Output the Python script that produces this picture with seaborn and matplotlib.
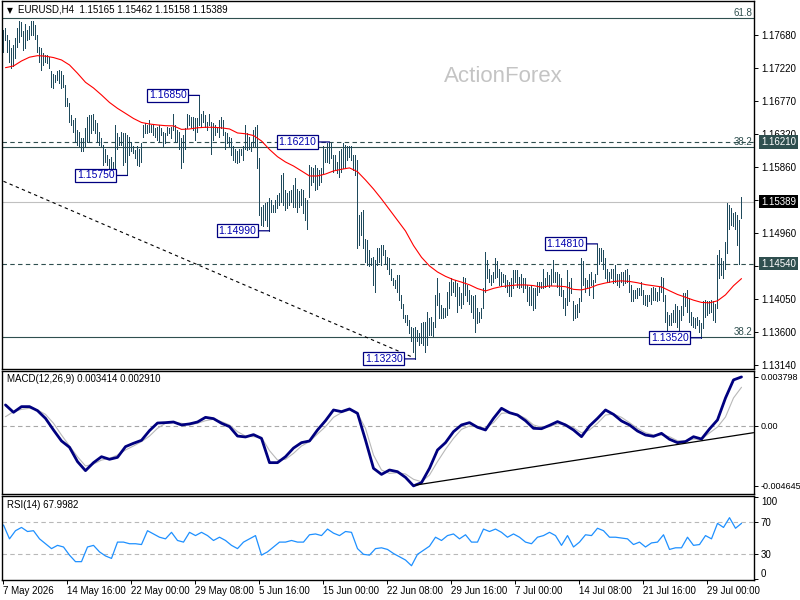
import numpy as np
import pandas as pd
import matplotlib
matplotlib.use("Agg")
import matplotlib.pyplot as plt
import matplotlib.transforms as mtransforms
import seaborn as sns

# ---------------- data ----------------
highs_a = [1.1775,1.1777,1.1768,1.1761,1.1750,1.1754,1.1764,1.1777,1.1787,1.1786,
           1.1773,1.1783,1.1775,1.1780,1.1787,1.1787,1.1782,1.1768,1.1752,1.1750,
           1.1743,1.1741,1.1741,1.1738,1.1718,1.1715,1.1713,1.1718,1.1720,1.1718,
           1.1713,1.1699,1.1681,1.1674,1.1658,1.1651,1.1654,1.1638,1.1635,1.1626,
           1.1626,1.1640,1.1656,1.1658,1.1658,1.1660,1.1651,1.1647,1.1635,1.1626,
           1.1617,1.1612,1.1603,1.1598,1.1601,1.1594,1.1644,1.1633,1.1628,1.1635,
           1.1633,1.1633,1.1631,1.1628,1.1621,1.1615,1.1610,1.1615,1.1612,1.1619,
           1.1644,1.1647,1.1644,1.1651,1.1644,1.1644,1.1640,1.1642,1.1644,1.1640,
           1.1635,1.1633,1.1642,1.1640,1.1642,1.1660,1.1644,1.1638,1.1635,1.1626,
           1.1631,1.1640,1.1660,1.1658,1.1656]
lows_a = [1.1745,1.1761,1.1745,1.1731,1.1722,1.1725,1.1736,1.1752,1.1759,1.1766,
          1.1747,1.1750,1.1761,1.1763,1.1768,1.1768,1.1763,1.1745,1.1731,1.1720,
          1.1727,1.1731,1.1729,1.1722,1.1697,1.1695,1.1704,1.1706,1.1702,1.1695,
          1.1697,1.1670,1.1670,1.1649,1.1644,1.1635,1.1621,1.1617,1.1615,1.1608,
          1.1608,1.1615,1.1621,1.1621,1.1633,1.1638,1.1633,1.1621,1.1617,1.1615,
          1.1590,1.1594,1.1590,1.1585,1.1580,1.1577,1.1585,1.1612,1.1617,1.1617,
          1.1590,1.1594,1.1575,1.1603,1.1608,1.1606,1.1599,1.1590,1.1588,1.1594,
          1.1628,1.1633,1.1633,1.1635,1.1635,1.1631,1.1628,1.1624,1.1621,1.1631,
          1.1615,1.1619,1.1631,1.1633,1.1626,1.1638,1.1621,1.1621,1.1612,1.1585,
          1.1594,1.1612,1.1640,1.1644,1.1642]
highs_b = [1.1656,1.1654,1.1654,1.1685,1.1660,1.1663,1.1658,1.1649,1.1660,1.1649,
           1.1647,1.1644,1.1642,1.1651,1.1656,1.1651,1.1635,1.1633,1.1628,1.1626,
           1.1615,1.1612,1.1608,1.1612,1.1612,1.1615,1.1644,1.1633,1.1628,1.1621,
           1.1638,1.1642,1.1644,1.1599,1.1532,1.1534,1.1537,1.1539,1.1544,1.1541,
           1.1534,1.1541,1.1548,1.1551,1.1576,1.1578,1.1555,1.1551,1.1553,1.1555,
           1.1562,1.1571,1.1557,1.1553,1.1557,1.1555,1.1544,1.1541,1.1589,1.1587,
           1.1585,1.1589,1.1585,1.1582,1.1585,1.1615,1.1612,1.1619,1.1621,1.1619,
           1.1603,1.1603,1.1594,1.1608,1.1612,1.1619,1.1617,1.1615,1.1615,1.1615,
           1.1603,1.1603,1.1596,1.1521,1.1525,1.1528,1.1488,1.1486,1.1473,1.1461,
           1.1463,1.1459,1.1475,1.1475]
lows_b = [1.1638,1.1624,1.1635,1.1644,1.1642,1.1649,1.1642,1.1638,1.1644,1.1605,
          1.1624,1.1631,1.1635,1.1628,1.1640,1.1631,1.1612,1.1619,1.1615,1.1603,
          1.1596,1.1594,1.1592,1.1594,1.1603,1.1596,1.1612,1.1610,1.1612,1.1608,
          1.1615,1.1615,1.1585,1.1521,1.1507,1.1505,1.1514,1.1505,1.1499,1.1525,
          1.1525,1.1525,1.1530,1.1534,1.1539,1.1534,1.1528,1.1530,1.1534,1.1539,
          1.1532,1.1532,1.1525,1.1532,1.1534,1.1523,1.1514,1.1502,1.1546,1.1562,
          1.1566,1.1555,1.1557,1.1562,1.1566,1.1578,1.1594,1.1594,1.1592,1.1599,
          1.1580,1.1583,1.1578,1.1573,1.1580,1.1585,1.1587,1.1596,1.1601,1.1596,
          1.1583,1.1576,1.1475,1.1479,1.1493,1.1475,1.1456,1.1452,1.1450,1.1452,
          1.1424,1.1415,1.1452,1.1456]
highs_c = [1.1479,1.1479,1.1473,1.1463,1.1461,1.1447,1.1434,1.1431,1.1438,1.1438,
           1.1411,1.1399,1.1383,1.1383,1.1376,1.1367,1.1365,1.1367,1.1363,1.1358,
           1.1372,1.1374,1.1374,1.1388,1.1379,1.1381,1.1374,1.1411,1.1434,1.1413,
           1.1397,1.1393,1.1393,1.1415,1.1429,1.1434,1.1429,1.1431,1.1427,1.1422,
           1.1413,1.1436,1.1434,1.1425,1.1418,1.1411,1.1409,1.1411,1.1393,1.1388,
           1.1393,1.1420,1.1470,1.1459,1.1447,1.1438,1.1443,1.1461,1.1457,1.1447,
           1.1443,1.1440,1.1438,1.1431,1.1429,1.1434,1.1445,1.1445,1.1445,1.1436,
           1.1440,1.1434,1.1434,1.1425,1.1422,1.1425,1.1420,1.1420,1.1429,1.1429,
           1.1429,1.1447,1.1434,1.1443,1.1438,1.1447,1.1459,1.1443,1.1443,1.1440,
           1.1434,1.1418,1.1406,1.1445]
lows_c = [1.1452,1.1466,1.1454,1.1447,1.1440,1.1431,1.1425,1.1420,1.1415,1.1404,
          1.1393,1.1379,1.1374,1.1370,1.1358,1.1347,1.1333,1.1323,1.1347,1.1342,
          1.1345,1.1342,1.1333,1.1342,1.1356,1.1356,1.1354,1.1367,1.1397,1.1379,
          1.1379,1.1379,1.1381,1.1383,1.1393,1.1411,1.1415,1.1409,1.1388,1.1397,
          1.1393,1.1399,1.1411,1.1402,1.1399,1.1388,1.1379,1.1360,1.1372,1.1374,
          1.1379,1.1393,1.1415,1.1434,1.1429,1.1425,1.1429,1.1434,1.1436,1.1425,
          1.1425,1.1429,1.1422,1.1415,1.1409,1.1409,1.1420,1.1429,1.1422,1.1420,
          1.1422,1.1415,1.1420,1.1402,1.1397,1.1397,1.1390,1.1393,1.1411,1.1415,
          1.1420,1.1420,1.1422,1.1425,1.1422,1.1425,1.1429,1.1429,1.1422,1.1411,
          1.1409,1.1393,1.1383,1.1397]
highs_d = [1.1429,1.1434,1.1402,1.1397,1.1399,1.1406,1.1461,1.1457,1.1434,1.1431,
           1.1440,1.1443,1.1431,1.1440,1.1481,1.1475,1.1475,1.1473,1.1461,1.1447,
           1.1443,1.1447,1.1447,1.1452,1.1440,1.1440,1.1443,1.1443,1.1445,1.1447,
           1.1438,1.1425,1.1418,1.1418,1.1420,1.1420,1.1429,1.1418,1.1411,1.1411,
           1.1411,1.1420,1.1422,1.1420,1.1415,1.1422,1.1436,1.1434,1.1411,1.1388,
           1.1383,1.1386,1.1390,1.1399,1.1395,1.1390,1.1395,1.1413,1.1413,1.1418,
           1.1406,1.1388,1.1381,1.1379,1.1381,1.1376,1.1372,1.1402,1.1404,1.1402,
           1.1402,1.1404,1.1402,1.1399,1.1466,1.1473,1.1461,1.1457,1.1484,1.1537,
           1.1534,1.1530,1.1523,1.1525,1.1521,1.1514,1.1546]
lows_d = [1.1402,1.1413,1.1376,1.1379,1.1381,1.1388,1.1402,1.1425,1.1415,1.1422,
          1.1411,1.1425,1.1406,1.1429,1.1440,1.1454,1.1457,1.1447,1.1434,1.1429,
          1.1429,1.1434,1.1427,1.1429,1.1425,1.1422,1.1429,1.1425,1.1427,1.1429,
          1.1415,1.1402,1.1402,1.1406,1.1406,1.1411,1.1411,1.1399,1.1397,1.1395,
          1.1402,1.1399,1.1404,1.1404,1.1402,1.1404,1.1415,1.1402,1.1374,1.1363,
          1.1370,1.1370,1.1374,1.1374,1.1367,1.1363,1.1376,1.1383,1.1395,1.1388,
          1.1374,1.1370,1.1367,1.1365,1.1370,1.1360,1.1352,1.1365,1.1381,1.1383,
          1.1386,1.1388,1.1376,1.1374,1.1393,1.1434,1.1438,1.1434,1.1447,1.1468,
          1.1502,1.1507,1.1505,1.1502,1.1479,1.1454,1.1516]

# moving average / MACD / signal sampled every 4th bar (bars 1, 5, ..., 369)
ma_values = [1.17231,1.17254,1.17323,1.17375,1.17396,1.17389,1.17370,1.17337,1.17268,1.17154,
             1.17030,1.16952,1.16856,1.16753,1.16672,1.16603,1.16533,1.16478,1.16457,1.16444,
             1.16434,1.16431,1.16383,1.16389,1.16405,1.16412,1.16412,1.16404,1.16389,1.16334,
             1.16323,1.16299,1.16224,1.16107,1.16008,1.15935,1.15880,1.15812,1.15743,1.15743,
             1.15770,1.15812,1.15835,1.15854,1.15802,1.15688,1.15564,1.15427,1.15281,1.15134,
             1.14987,1.14788,1.14626,1.14507,1.14424,1.14364,1.14318,1.14285,1.14248,1.14196,
             1.14163,1.14199,1.14224,1.14236,1.14246,1.14246,1.14237,1.14215,1.14232,1.14230,
             1.14222,1.14185,1.14178,1.14204,1.14247,1.14273,1.14294,1.14302,1.14294,1.14276,
             1.14250,1.14235,1.14219,1.14166,1.14115,1.14077,1.14037,1.14006,1.14000,1.14028,
             1.14110,1.14235,1.14333]
macd_values = [0.00163,0.00106,0.00150,0.00150,0.00119,0.00059,-0.00031,-0.00116,-0.00165,-0.00276,
               -0.00346,-0.00284,-0.00238,-0.00258,-0.00243,-0.00160,-0.00134,-0.00111,-0.00036,0.00023,
               0.00026,0.00031,0.00008,0.00016,0.00031,0.00067,0.00057,0.00021,-0.00005,-0.00078,
               -0.00085,-0.00067,-0.00096,-0.00284,-0.00284,-0.00238,-0.00171,-0.00129,-0.00116,-0.00031,
               0.00041,0.00124,0.00111,0.00132,0.00098,-0.00109,-0.00328,-0.00375,-0.00341,-0.00354,
               -0.00398,-0.00464,-0.00439,-0.00328,-0.00186,-0.00129,-0.00044,0.00008,0.00026,-0.00010,
               -0.00031,0.00059,0.00137,0.00103,0.00085,0.00041,-0.00018,-0.00021,0.00005,0.00034,
               0.00008,-0.00031,-0.00083,0.00000,0.00059,0.00124,0.00090,0.00039,0.00008,-0.00039,
               -0.00070,-0.00080,-0.00057,-0.00103,-0.00129,-0.00121,-0.00083,-0.00101,-0.00023,0.00047,
               0.00217,0.00357,0.00380]
signal_values = [0.00072,0.00111,0.00129,0.00137,0.00124,0.00090,0.00021,-0.00070,-0.00155,-0.00238,
                 -0.00310,-0.00295,-0.00264,-0.00251,-0.00225,-0.00186,-0.00155,-0.00121,-0.00078,-0.00018,
                 0.00021,0.00026,0.00021,0.00008,0.00021,0.00041,0.00052,0.00034,0.00008,-0.00044,
                 -0.00078,-0.00083,-0.00088,-0.00191,-0.00264,-0.00258,-0.00212,-0.00155,-0.00121,-0.00062,
                 -0.00005,0.00067,0.00103,0.00124,0.00098,-0.00018,-0.00225,-0.00341,-0.00367,-0.00362,
                 -0.00372,-0.00413,-0.00432,-0.00380,-0.00276,-0.00181,-0.00096,-0.00026,0.00000,-0.00005,
                 -0.00018,0.00026,0.00098,0.00103,0.00090,0.00059,0.00008,-0.00010,-0.00005,0.00016,
                 0.00013,-0.00013,-0.00052,-0.00031,0.00021,0.00085,0.00093,0.00067,0.00026,-0.00018,
                 -0.00052,-0.00070,-0.00070,-0.00083,-0.00114,-0.00116,-0.00101,-0.00103,-0.00054,-0.00008,
                 0.00070,0.00217,0.00300]
# RSI sampled every 3rd bar (bars 0, 3, ..., 369)
rsi_values = [66,49,59,63,58,59,49,43,37,41,
              39,29,21,21,39,41,33,28,25,45,
              45,43,43,42,59,55,51,49,57,47,
              45,57,53,57,53,47,51,47,41,37,
              45,49,53,29,33,39,45,45,47,45,
              45,54,55,53,61,56,53,58,57,37,
              30,29,37,38,36,31,27,23,16,30,
              35,40,51,47,53,55,49,54,45,45,
              61,58,61,57,51,55,51,45,43,51,
              53,57,53,41,53,39,45,54,53,62,
              59,51,51,50,49,42,45,39,44,45,
              54,36,38,38,51,41,42,53,49,68,
              63,75,62,68.0]

time_labels = ["7 May 2026", "14 May 16:00", "22 May 00:00", "29 May 08:00", "5 Jun 16:00",
               "15 Jun 00:00", "22 Jun 08:00", "29 Jun 16:00", "7 Jul 00:00", "14 Jul 08:00",
               "21 Jul 16:00", "29 Jul 00:00"]
price_ticks = [1.17680, 1.17220, 1.16770, 1.16320, 1.15860, 1.15410, 1.14960, 1.14500,
               1.14050, 1.13600, 1.13140]
hidden_price_ticks = [1.15410, 1.14500]   # covered by the price boxes in the reference
macd_ticks = [0.003798, 0.0, -0.004645]
rsi_ticks = [100, 70, 30, 0]

swing_bars = [62, 98, 133, 163, 206, 297, 349]
swing_prices = [1.15750, 1.16850, 1.14990, 1.16210, 1.13230, 1.14810, 1.13520]

fib_levels = [1.17918, 1.16141, 1.13535]
fib_names = ["61.8", "38.2", "38.2"]
dashed_levels = [1.16210, 1.14540]
bid_price = 1.15389

trend_bars = [0, 204]
trend_prices = [1.1567, 1.1326]
macd_trend_bars = [206, 375]
macd_trend_values = [-0.00458, -0.00052]

header = "EURUSD,H4  1.15165 1.15462 1.15158 1.15389"
macd_title = "MACD(12,26,9) 0.003414 0.002910"
rsi_title = "RSI(14) 67.9982"

# ---------------- derived tables ----------------
highs = highs_a + highs_b + highs_c + highs_d
lows = lows_a + lows_b + lows_c + lows_d
bars = pd.DataFrame({"bar": np.arange(len(highs)), "high": highs, "low": lows})
ind = pd.DataFrame({"bar": np.arange(1, len(highs), 4), "ma": ma_values,
                    "macd": macd_values, "signal": signal_values})
rsi = pd.DataFrame({"bar": np.arange(0, len(highs), 3), "rsi": rsi_values})
tick_bars = np.arange(len(time_labels)) * 32

# ---------------- style ----------------
sns.set_theme(style="white")
plt.rcParams["font.family"] = ["Liberation Sans", "DejaVu Sans"]
plt.rcParams["axes.edgecolor"] = "black"
plt.rcParams["axes.linewidth"] = 1.0

W, H = 800, 600
fig = plt.figure(figsize=(8, 6), dpi=100, facecolor="white")


def px_axes(x0, y0, x1, y1):
    return fig.add_axes([x0 / W, 1 - y1 / H, (x1 - x0) / W, (y1 - y0) / H])


ax = px_axes(2, 1, 754, 368.5)
axm = px_axes(2, 371, 754, 493.5)
axr = px_axes(2, 495.5, 754, 579.5)

XL = (-0.75, 375.25)
slate = "#2f4f4f"
bar_col = "#1f4a5c"
fs = 7

for a in (ax, axm, axr):
    a.set_xlim(*XL)
    a.set_facecolor("white")
    a.yaxis.tick_right()
    a.tick_params(axis="y", which="both", left=False, right=True, labelleft=False,
                  labelright=True, direction="out", length=3, width=0.7, pad=2,
                  labelsize=fs, colors="black")
    a.tick_params(axis="x", bottom=False, labelbottom=False)
    for s in a.spines.values():
        s.set_color("black")
        s.set_linewidth(1.0)
    a.grid(False)

# ---------------- main panel ----------------
ax.set_ylim(1.13098, 1.18147)
for lv in fib_levels:
    ax.axhline(lv, color=slate, lw=0.8, zorder=1)
for lv in dashed_levels:
    ax.axhline(lv, color=slate, lw=0.8, ls=(0, (4, 3)), zorder=1)
ax.axhline(bid_price, color="#c0c0c0", lw=0.8, zorder=1)
sns.lineplot(x=trend_bars, y=trend_prices, ax=ax, color="black", lw=0.8,
             linestyle=(0, (3, 3)), zorder=1)

ax.vlines(bars["bar"], bars["low"], bars["high"], colors=bar_col, linewidth=0.5,
          antialiased=False, zorder=2)
sns.lineplot(data=ind, x="bar", y="ma", ax=ax, color="#ff0000", lw=0.8, zorder=3)

ax.set_yticks(price_ticks)
ax.set_yticklabels(["" if v in hidden_price_ticks else f"{v:.5f}" for v in price_ticks])
ax.set_xlabel("")
ax.set_ylabel("")

tr = mtransforms.blended_transform_factory(ax.transAxes, ax.transData)
for lv, name in zip(fib_levels, fib_names):
    ax.text(0.9975, lv, name, transform=tr, ha="right", va="bottom", fontsize=fs,
            color=slate, zorder=4)

for price, fc in [(1.16210, slate), (bid_price, "black"), (1.14540, slate)]:
    ax.text(1 + 7 / 752, price, f"{price:.5f}", transform=tr, ha="left", va="center",
            fontsize=fs, color="white", clip_on=False, zorder=20,
            bbox=dict(boxstyle="square,pad=0.18", fc=fc, ec="none"))

for b, p in zip(swing_bars, swing_prices):
    ax.annotate(f"{p:.5f}", xy=(b, p), xytext=(-13, 0), textcoords="offset pixels",
                ha="right", va="center", fontsize=7.5, color="#0000b0", zorder=6,
                bbox=dict(boxstyle="square,pad=0.15", fc="white", ec="#000080", lw=0.9),
                arrowprops=dict(arrowstyle="-", color="#000080", lw=0.9,
                                shrinkA=0, shrinkB=0))

# ---------------- MACD panel ----------------
axm.set_ylim(-0.00523, 0.00426)
axm.axhline(0, color="#a8a8a8", lw=0.8, ls=(0, (4, 3)), zorder=1)
sns.lineplot(data=ind, x="bar", y="signal", ax=axm, color="#b8b8b8", lw=0.8, zorder=2)
sns.lineplot(data=ind, x="bar", y="macd", ax=axm, color="#00007f", lw=2.0, zorder=3)
sns.lineplot(x=macd_trend_bars, y=macd_trend_values, ax=axm, color="black", lw=0.9, zorder=4)
axm.set_yticks(macd_ticks)
axm.set_yticklabels(["0.003798", "0.00", "-0.004645"])
axm.tick_params(axis="y", labelsize=6.5, pad=1.5)
axm.set_xlabel("")
axm.set_ylabel("")

# ---------------- RSI panel ----------------
axr.set_ylim(-0.9, 102.2)
for lv in (70, 30):
    axr.axhline(lv, color="#b8b8b8", lw=0.8, ls=(0, (4, 3)), zorder=1)
sns.lineplot(data=rsi, x="bar", y="rsi", ax=axr, color="#1e90ff", lw=0.9, zorder=2)
axr.set_yticks(rsi_ticks)
axr.set_yticklabels([str(v) for v in rsi_ticks])
labs = axr.get_yticklabels()
labs[0].set_va("top")
labs[-1].set_va("bottom")
axr.set_xlabel("")
axr.set_ylabel("")
axr.set_xlim(*XL)
axr.set_xticks(tick_bars)
axr.set_xticklabels(time_labels, ha="left")
axr.tick_params(axis="x", bottom=True, labelbottom=True, direction="out", length=3,
                width=0.7, pad=2, labelsize=fs, colors="black")

for a in (ax, axm):
    a.set_xlim(*XL)

# ---------------- header & titles ----------------
fig.text(7 / W, 1 - 10.5 / H, "\u25bc", fontsize=5.5, va="center", ha="left",
         family=["DejaVu Sans"], color="black")
fig.text(18 / W, 1 - 10 / H, header, fontsize=fs, va="center", ha="left", color="black")
fig.text(7 / W, 1 - 379 / H, macd_title, fontsize=fs, va="center", ha="left", color="black")
fig.text(7 / W, 1 - 505 / H, rsi_title, fontsize=fs, va="center", ha="left", color="black")
fig.text(503 / W, 1 - 77 / H, "ActionForex", fontsize=16, va="center", ha="center",
         color="#c4c4c4")

fig.savefig("out.png", dpi=100, facecolor="white")
